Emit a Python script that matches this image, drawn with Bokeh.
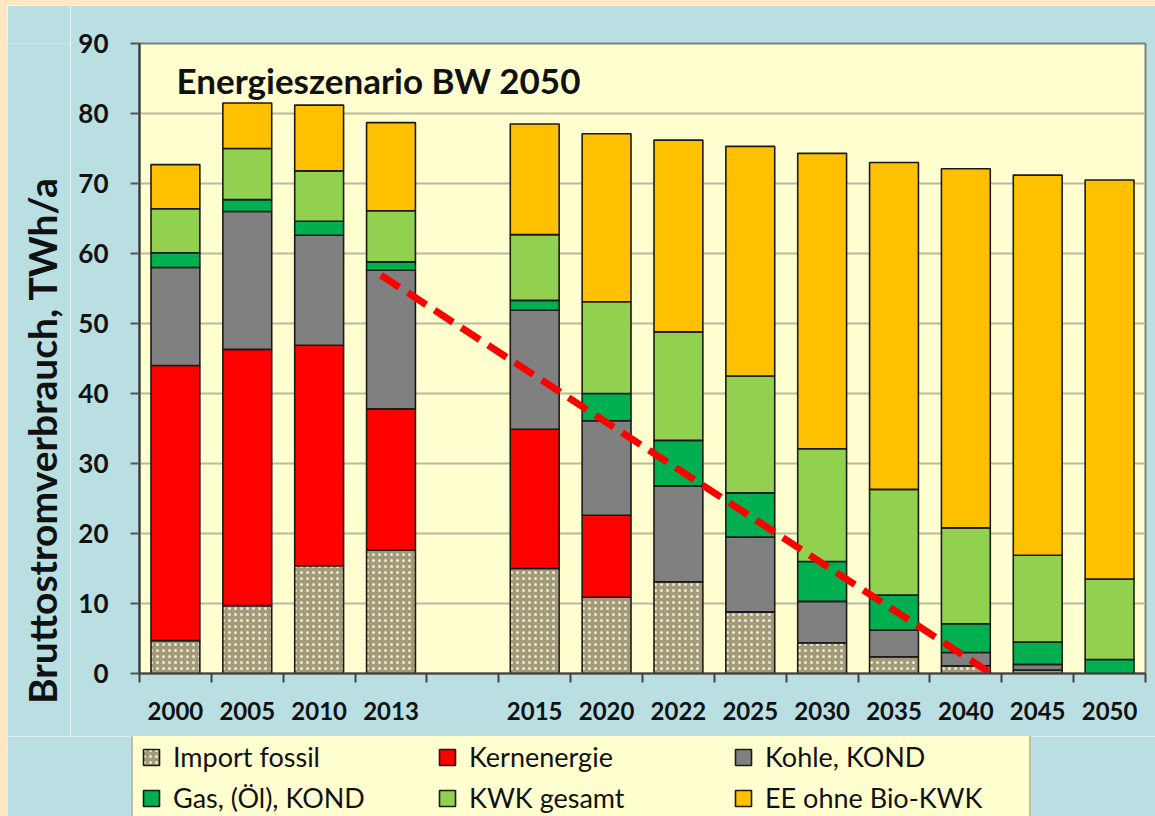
import math
from bokeh.plotting import figure
from bokeh.layouts import column, row
from bokeh.models import (ColumnDataSource, Range1d, FixedTicker, Legend, LegendItem,
                          Label, Spacer)
from bokeh.embed import file_html
from bokeh.resources import INLINE

# ---------------- data ----------------
categories = ["2000", "2005", "2010", "2013", "", "2015", "2020", "2022",
              "2025", "2030", "2035", "2040", "2045", "2050"]
years = [c for c in categories if c]

import_fossil = [4.7, 9.7, 15.4, 17.6, 15.0, 10.9, 13.1, 8.8, 4.4, 2.4, 1.1, 0.5, 0.0]
kernenergie   = [39.3, 36.6, 31.5, 20.2, 19.9, 11.7, 0.0, 0.0, 0.0, 0.0, 0.0, 0.0, 0.0]
kohle_kond    = [14.0, 19.7, 15.7, 19.8, 17.0, 13.5, 13.7, 10.7, 5.9, 3.8, 1.9, 0.8, 0.0]
gas_oel_kond  = [2.1, 1.7, 2.0, 1.2, 1.4, 3.9, 6.5, 6.3, 5.7, 5.0, 4.1, 3.2, 2.0]
kwk_gesamt    = [6.3, 7.3, 7.2, 7.3, 9.4, 13.1, 15.5, 16.7, 16.1, 15.1, 13.7, 12.4, 11.5]
ee_ohne_bio   = [6.3, 6.5, 9.4, 12.6, 15.8, 24.0, 27.4, 32.8, 42.2, 46.7, 51.3, 54.3, 57.0]

series_names = ["Import fossil", "Kernenergie", "Kohle, KOND",
                "Gas, (Öl), KOND", "KWK gesamt", "EE ohne Bio-KWK"]
series_keys = ["imp", "kern", "kohle", "gas", "kwk", "ee"]
series_colors = ["#A39B77", "#FF0000", "#808080", "#00B050", "#92D050", "#FFC000"]

y_ticks = list(range(0, 100, 10))

# trend line (red dashed), positions in slot units and TWh/a
trend_x = [3.36, 12.0]
trend_y = [56.9, -1.0]

title_text = "Energieszenario BW 2050"
y_label_text = "Bruttostromverbrauch, TWh/a"

# ---------------- style ----------------
FONT = "Lato"
BLUE = "#B9DFE2"
ORANGE = "#FFE7C2"
PLOT_BG = "#FFFFCF"
LINE = "#1A1A1A"
HATCH = dict(hatch_pattern="dot", hatch_color="#ECE9D8", hatch_scale=6, hatch_weight=2.2)

# ---------------- main chart ----------------
slot_pos = {c: i + 0.5 for i, c in enumerate(categories) if c}
xs = [slot_pos[y] for y in years]

source = ColumnDataSource(dict(
    x=xs, imp=import_fossil, kern=kernenergie, kohle=kohle_kond,
    gas=gas_oel_kond, kwk=kwk_gesamt, ee=ee_ohne_bio))

p = figure(frame_width=1006, frame_height=630, output_backend="svg", toolbar_location=None,
           x_range=Range1d(0, len(categories)), y_range=Range1d(0, 90),
           min_border_left=69, min_border_right=10, min_border_top=38,
           min_border_bottom=63)
p.background_fill_color = PLOT_BG
p.border_fill_color = BLUE
p.outline_line_color = "#7F7F7F"
p.outline_line_width = 2

renderers = p.vbar_stack(series_keys, x="x", width=0.68, source=source,
                         fill_color=series_colors, line_color=LINE, line_width=1.6)
for k, v in HATCH.items():
    setattr(renderers[0].glyph, k, v)

p.line(trend_x, trend_y, line_color="#FF0000", line_width=7, line_dash="22 10")

p.xgrid.visible = False
p.ygrid.ticker = FixedTicker(ticks=y_ticks)
p.ygrid.grid_line_color = "#B9B9A3"
p.ygrid.grid_line_width = 2

centers = [slot_pos[y] for y in years]
bounds = list(range(0, len(categories) + 1))
xa = p.xaxis[0]
xa.ticker = FixedTicker(ticks=centers, minor_ticks=bounds)
xa.major_label_overrides = {c: y for c, y in zip(centers, years)}
xa.major_tick_out = 0
xa.major_tick_in = 0
xa.minor_tick_out = 9
xa.minor_tick_in = 0
xa.minor_tick_line_color = "#404040"
xa.minor_tick_line_width = 2
xa.axis_line_color = "#404040"
xa.axis_line_width = 2
xa.major_label_standoff = 19
xa.major_label_text_font = FONT
xa.major_label_text_font_style = "bold"
xa.major_label_text_font_size = "24px"
xa.major_label_text_color = "#111111"

ya = p.yaxis[0]
ya.ticker = FixedTicker(ticks=y_ticks)
ya.major_tick_out = 9
ya.major_tick_in = 0
ya.minor_tick_out = 0
ya.minor_tick_in = 0
ya.major_tick_line_color = "#555555"
ya.major_tick_line_width = 2
ya.axis_line_color = "#303030"
ya.axis_line_width = 2
ya.major_label_standoff = 22
ya.major_label_text_font = FONT
ya.major_label_text_font_style = "bold"
ya.major_label_text_font_size = "26px"
ya.major_label_text_color = "#111111"

p.add_layout(Label(x=37, y=594, x_units="screen", y_units="screen", text=title_text,
                   text_font=FONT, text_font_style="bold", text_font_size="35px",
                   text_color="#111111", text_baseline="alphabetic", text_align="left"))

# ---------------- y-axis title panel ----------------
yl = figure(frame_width=63, frame_height=731, output_backend="svg", toolbar_location=None,
            x_range=Range1d(0, 1), y_range=Range1d(0, 1),
            x_axis_type=None, y_axis_type=None, min_border=0)
yl.background_fill_color = BLUE
yl.border_fill_color = BLUE
yl.outline_line_color = None
yl.grid.visible = False
yl.add_layout(Label(x=34, y=334, x_units="screen", y_units="screen", text=y_label_text,
                    angle=math.pi / 2, text_font=FONT, text_font_style="bold",
                    text_font_size="39px", text_color="#111111",
                    text_baseline="middle", text_align="center"))

# ---------------- legend panel ----------------
# legend swatches use the same stacked glyph styling; the proxy renderers are hidden
lg = figure(frame_width=1148, frame_height=80, output_backend="svg", toolbar_location=None,
            x_range=Range1d(0, len(categories)), y_range=Range1d(-2, -1),
            x_axis_type=None, y_axis_type=None, min_border=0)
lg.background_fill_color = BLUE
lg.border_fill_color = BLUE
lg.outline_line_color = None
lg.grid.visible = False
proxies = lg.vbar_stack(series_keys, x="x", width=0.68, source=source,
                        fill_color=series_colors, line_color=LINE, line_width=1.6)
for k, v in HATCH.items():
    setattr(proxies[0].glyph, k, v)
for r in proxies:
    r.visible = False
items = [LegendItem(label=n, renderers=[r]) for n, r in zip(series_names, proxies)]
legend = Legend(items=items, orientation="horizontal", ncols=3,
                location=(124, -8), margin=0, click_policy="none",
                glyph_width=20, glyph_height=20, label_standoff=12,
                label_width=256, label_height=32, spacing=8, padding=8,
                label_text_font=FONT, label_text_font_size="27px",
                label_text_color="#111111",
                background_fill_color=PLOT_BG, background_fill_alpha=1,
                border_line_color="#808080", border_line_width=2)
lg.add_layout(legend, "center")

layout = column(
    Spacer(width=1155, height=5, styles={"background-color": ORANGE}),
    row(Spacer(width=7, height=811, styles={"background-color": ORANGE}),
        column(row(yl, p), lg)),
)

open("out.html", "w").write(file_html(layout, INLINE))
